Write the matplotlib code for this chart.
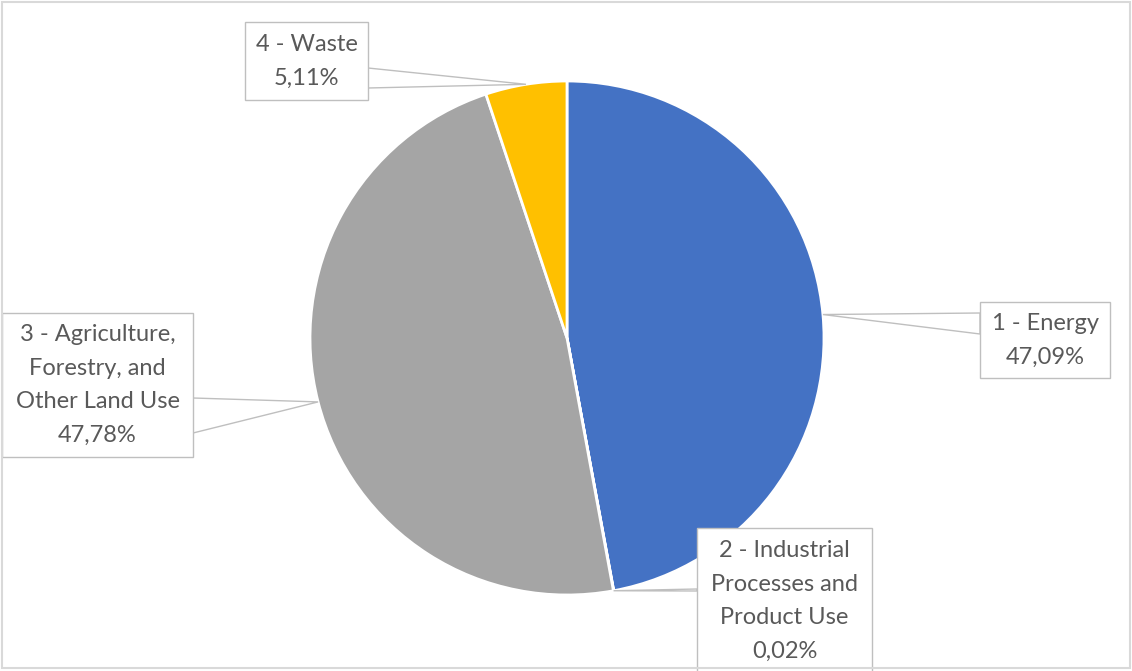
import numpy as np
import matplotlib.pyplot as plt
from matplotlib.patches import Rectangle, Polygon

categories = ["1 - Energy", "2 - Industrial\nProcesses and\nProduct Use",
              "3 - Agriculture,\nForestry, and\nOther Land Use", "4 - Waste"]
values = [47.09, 0.02, 47.78, 5.11]
pct_labels = ["47,09%", "0,02%", "47,78%", "5,11%"]
colors = ["#4472C4", "#ED7D31", "#A5A5A5", "#FFC000"]

# label boxes in pixel coords (x0, y0, x1, y1) and pointer base on the box edge
boxes = [(980, 302, 1110, 378), (697, 528, 872, 674), (2, 313, 193, 457), (245, 22, 368, 100)]
bases = [((980, 313), (980, 334)), ((697, 589), (697, 591)),
         ((193, 398), (193, 433)), ((368, 68), (368, 88))]

plt.rcParams['font.family'] = ['Lato', 'DejaVu Sans']

fig = plt.figure(figsize=(11.32, 6.71), dpi=100)
ax = fig.add_axes([0, 0, 1, 1])

cx, cy, r = 567, 338, 257
# y axis is inverted below, so counterclock in data = clockwise on screen
wedges, _ = ax.pie(values, colors=colors, startangle=-90, counterclock=True,
                   center=(cx, cy), radius=r, frame=True,
                   wedgeprops=dict(edgecolor='white', linewidth=2))
ax.set_xlim(0, 1132)
ax.set_ylim(671, 0)
ax.set_aspect('equal')
ax.axis('off')

edge = '#BFBFBF'
for w, box, base, cat, pct in zip(wedges, boxes, bases, categories, pct_labels):
    mid = np.deg2rad((w.theta1 + w.theta2) / 2)
    px = cx + r * np.cos(mid)
    py = cy + r * np.sin(mid)
    tri = Polygon([base[0], (px, py), base[1]], closed=True, facecolor='white',
                  edgecolor=edge, linewidth=1, zorder=3)
    ax.add_patch(tri)
    x0, y0, x1, y1 = box
    ax.add_patch(Rectangle((x0, y0), x1 - x0, y1 - y0, facecolor='white',
                           edgecolor=edge, linewidth=1, zorder=4))
    ax.text((x0 + x1) / 2, (y0 + y1) / 2, cat + "\n" + pct, ha='center', va='center',
            fontsize=17, color='#595959', linespacing=1.75, zorder=5)

ax.add_patch(Rectangle((2, 2), 1128, 666, facecolor='none', edgecolor='#D9D9D9',
                       linewidth=1.5, zorder=6))

fig.savefig('out.png', dpi=100)
